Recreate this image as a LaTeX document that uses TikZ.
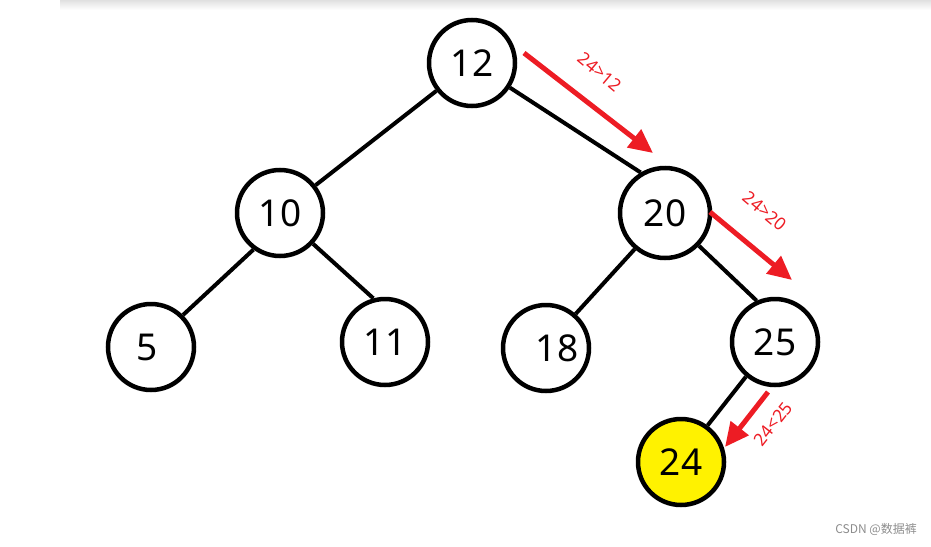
\documentclass[tikz,border=0pt]{standalone}
\usepackage{fontspec}
\setmainfont{Noto Sans}
\newfontfamily\cjkfont{Noto Sans CJK SC}
\usetikzlibrary{arrows.meta}
\definecolor{arrowred}{HTML}{ED1C24}
\definecolor{nodeyellow}{HTML}{FFF200}
\tikzset{
  treenode/.style={circle, draw=black, line width=4.5pt, minimum size=86pt, inner sep=0pt, font=\fontsize{37}{40}\selectfont},
  edge/.style={line width=4pt, black},
  redarrow/.style={line width=5pt, arrowred, -{Triangle[length=24pt,width=22pt]}},
  redlabel/.style={text=arrowred, font=\fontsize{17.5}{19}\selectfont, inner sep=0pt},
}
\begin{document}
\begin{tikzpicture}[x=1pt,y=-1pt]
\useasboundingbox (0,0) rectangle (931,546);
\shade[top color=black!12, bottom color=white, draw=none] (60,0) rectangle (931,10);
% nodes
\node[treenode] (n12) at (472,63) {12};
\node[treenode] (n10) at (280,213) {10};
\node[treenode, minimum size=90pt] (n20) at (665,213) {20};
\node[treenode] (n5) at (151,347) {\raisebox{-5pt}{\hspace*{-8pt}5}};
\node[treenode] (n11) at (385,342) {11};
\node[treenode] (n18) at (546,348) {\raisebox{-5pt}{\hspace*{22pt}18}};
\node[treenode] (n25) at (775,342) {25};
\node[treenode, fill=nodeyellow] (n24) at (681,462) {24};
% edges
\draw[edge] (n12.-142) -- (n10.38);
\draw[edge] (n12.-33) -- (n20.121);
\draw[edge] (n10.-126) -- (n5.45);
\draw[edge] (n10.-43) -- (n11.105);
\draw[edge] (n20.-130) -- (n18.49);
\draw[edge] (n20.-44) -- (n25.114);
\draw[edge] (n25.-130) -- (n24.54);
% red arrows
\coordinate (a1s) at (524,53);
\coordinate (a1e) at (653,153);
\coordinate (a2s) at (710,212);
\coordinate (a2e) at (792,280);
\coordinate (a3s) at (768,392);
\coordinate (a3e) at (725,447);
\draw[redarrow] (a1s) -- (a1e);
\draw[redarrow] (a2s) -- (a2e);
\draw[redarrow] (a3s) -- (a3e);
\node[redlabel, rotate=-40] (l1) at (600,72) {24>12};
\node[redlabel, rotate=-40] (l2) at (765,211) {24>20};
\node[redlabel, rotate=52] (l3) at (773,424) {24<25};
% watermark
\node[text=black!45, font=\cjkfont\fontsize{12}{14}\selectfont, anchor=east, inner sep=0pt] (wm) at (917,529) {CSDN @数据裤};
\end{tikzpicture}
\end{document}
